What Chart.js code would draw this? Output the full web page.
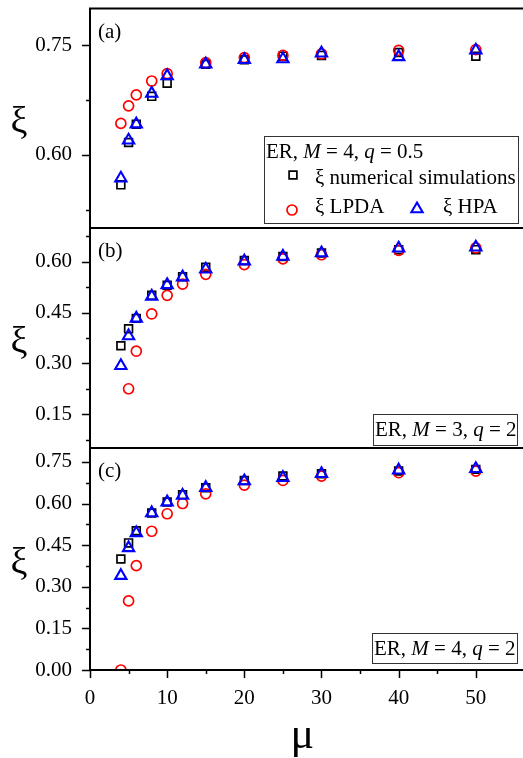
<!DOCTYPE html>
<html>
<head>
<meta charset="utf-8">
<script src="https://cdn.jsdelivr.net/npm/chart.js@4.4.1/dist/chart.umd.min.js"></script>
<style>
  html, body { margin: 0; padding: 0; background: #fff; }
  #wrap { position: relative; width: 523px; height: 758px; overflow: hidden; }
  #wrap canvas { position: absolute; left: 0; top: 0; }
</style>
</head>
<body>
<div id="wrap">
  <canvas id="panelA" width="523" height="758"></canvas>
  <canvas id="panelB" width="523" height="758"></canvas>
  <canvas id="panelC" width="523" height="758"></canvas>
</div>
<script>
// mean degree
const mu = [4, 5, 6, 8, 10, 12, 15, 20, 25, 30, 40, 50];

// (a) ER, M = 4, q = 0.5 -- no point at mu = 12
const simA  = [0.559, 0.617, 0.642, 0.680, 0.698, null, 0.724, 0.730, 0.735, 0.736, 0.740, 0.735];
const lpdaA = [0.643, 0.667, 0.682, 0.701, 0.711, null, 0.726, 0.733, 0.736, 0.738, 0.743, 0.744];
const hpaA  = [0.568, 0.620, 0.642, 0.684, 0.708, null, 0.724, 0.730, 0.731, 0.739, 0.734, 0.743];

// (b) ER, M = 3, q = 2 -- LPDA has no value at mu = 4
const simB  = [0.352, 0.402, 0.433, 0.501, 0.531, 0.556, 0.584, 0.604, 0.616, 0.626, 0.636, 0.636];
const lpdaB = [null,  0.225, 0.336, 0.446, 0.501, 0.534, 0.563, 0.592, 0.609, 0.621, 0.634, 0.641];
const hpaB  = [0.293, 0.381, 0.433, 0.498, 0.532, 0.555, 0.578, 0.602, 0.616, 0.626, 0.640, 0.643];

// (c) ER, M = 4, q = 2
const simC  = [0.400, 0.458, 0.502, 0.566, 0.605, 0.632, 0.657, 0.683, 0.699, 0.707, 0.717, 0.723];
const lpdaC = [0.000, 0.249, 0.376, 0.500, 0.563, 0.600, 0.635, 0.666, 0.683, 0.699, 0.711, 0.717];
const hpaC  = [0.340, 0.440, 0.494, 0.566, 0.605, 0.629, 0.657, 0.681, 0.693, 0.707, 0.720, 0.725];

// tick positions (labels only on multiples of 0.15 / 10)
const yTicksA = [0.525, 0.60, 0.675, 0.75];
const yTicksB = [0.075, 0.15, 0.225, 0.30, 0.375, 0.45, 0.525, 0.60, 0.675];
const yTicksC = [0, 0.075, 0.15, 0.225, 0.30, 0.375, 0.45, 0.525, 0.60, 0.675, 0.75];
const xTicks  = [0, 5, 10, 15, 20, 25, 30, 35, 40, 45, 50];

const SERIF = "'Liberation Serif', 'Times New Roman', serif";
const FONT = 21;
const isMajorY = v => Math.round(v * 1000) % 150 === 0;

const styles = {
  sim:  { label: 'ξ numerical simulations', pointStyle: 'rect',     radius: 5.5, color: '#000000', width: 1.7 },
  lpda: { label: 'ξ LPDA',                  pointStyle: 'circle',   radius: 5,   color: '#ff0000', width: 1.7 },
  hpa:  { label: 'ξ HPA',                   pointStyle: 'triangle', radius: 6.5, color: '#0000ff', width: 2.1 }
};

function toPoints(ys) {
  return mu.map((x, i) => ({ x: x, y: ys[i] })).filter(p => p.y !== null);
}

function dataset(key, ys, order) {
  const s = styles[key];
  return {
    label: s.label,
    data: toPoints(ys),
    pointStyle: s.pointStyle,
    pointRadius: s.radius,
    pointHoverRadius: s.radius,
    pointBorderWidth: s.width,
    pointBorderColor: s.color,
    pointBackgroundColor: 'rgba(0,0,0,0)',
    showLine: false,
    clip: 0,
    order: order
  };
}

// draws text made of plain / italic pieces, returns end x
function richText(ctx, parts, x, y, size) {
  parts.forEach(p => {
    ctx.font = (p[1] ? 'italic ' : '') + size + 'px ' + SERIF;
    ctx.fillText(p[0], x, y);
    x += ctx.measureText(p[0]).width;
  });
  return x;
}

function marker(ctx, key, x, y) {
  const s = styles[key];
  ctx.save();
  ctx.strokeStyle = s.color;
  ctx.fillStyle = 'rgba(0,0,0,0)';
  ctx.lineWidth = s.width;
  Chart.helpers.drawPoint(ctx, { pointStyle: s.pointStyle, radius: s.radius, rotation: 0, borderWidth: s.width }, x, y);
  ctx.restore();
}

// frame, minor/major ticks, axis symbols and the panel notes
const panelDecor = {
  id: 'panelDecor',
  afterDraw(chart, args, o) {
    const ctx = chart.ctx;
    const a = chart.chartArea;
    const sx = chart.scales.x, sy = chart.scales.y;
    ctx.save();
    ctx.strokeStyle = '#000';
    ctx.lineWidth = 1.5;
    ctx.beginPath();
    o.yTicks.forEach(v => {
      const py = Math.round(sy.getPixelForValue(v)) + 0.5;
      ctx.moveTo(a.left - (isMajorY(v) ? 8 : 4), py);
      ctx.lineTo(a.left, py);
    });
    if (o.showX) {
      xTicks.forEach(v => {
        const px = Math.round(sx.getPixelForValue(v)) + 0.5;
        ctx.moveTo(px, a.bottom);
        ctx.lineTo(px, a.bottom + (v % 10 === 0 ? 8 : 4));
      });
    }
    ctx.stroke();

    ctx.lineWidth = 2;
    ctx.beginPath();
    ctx.moveTo(a.left, a.top); ctx.lineTo(a.left, a.bottom);
    ctx.moveTo(a.left - 1, a.top); ctx.lineTo(chart.width, a.top);
    ctx.moveTo(a.left - 1, a.bottom); ctx.lineTo(chart.width, a.bottom);
    ctx.stroke();

    ctx.fillStyle = '#000';
    ctx.textBaseline = 'alphabetic';
    ctx.textAlign = 'left';
    ctx.font = FONT + 'px ' + SERIF;
    ctx.fillText(o.tag, 98, a.top + 29);

    // upright ξ on the y side
    ctx.textAlign = 'center';
    ctx.font = '38px ' + SERIF;
    ctx.fillText('ξ', 19, (a.top + a.bottom) / 2 + 15);
    if (o.showX) {
      ctx.font = '44px ' + SERIF;
      ctx.fillText('μ', (a.left + a.right) / 2, 748);
    }
    ctx.textAlign = 'left';

    const b = o.box;
    ctx.fillStyle = '#fff';
    ctx.fillRect(b.x, b.y, b.w, b.h);
    ctx.strokeStyle = '#333';
    ctx.lineWidth = 1;
    ctx.strokeRect(b.x + 0.5, b.y + 0.5, b.w, b.h);
    ctx.fillStyle = '#000';
    richText(ctx, o.note, b.x + 2, b.y + b.base, FONT);
    if (o.legend) {
      marker(ctx, 'sim', b.x + 29, b.y + 39);
      ctx.font = FONT + 'px ' + SERIF;
      ctx.fillText(styles.sim.label, b.x + 51, b.y + 48);
      marker(ctx, 'lpda', b.x + 28, b.y + 74);
      ctx.fillText(styles.lpda.label, b.x + 51, b.y + 77);
      marker(ctx, 'hpa', b.x + 153, b.y + 73);
      ctx.fillText(styles.hpa.label, b.x + 179, b.y + 77);
    }
    ctx.restore();
  }
};

const panels = [
  { id: 'panelA', tag: '(a)', top: 5, bottom: 228, yMin: 0.50, yMax: 0.80, yTicks: yTicksA,
    sim: simA, lpda: lpdaA, hpa: hpaA, showX: false, legend: true,
    note: [['ER, ', 0], ['M', 1], [' = 4, ', 0], ['q', 1], [' = 0.5', 0]],
    box: { x: 264, y: 136, w: 254, h: 87, base: 22 } },
  { id: 'panelB', tag: '(b)', top: 228, bottom: 448, yMin: 0.05, yMax: 0.70, yTicks: yTicksB,
    sim: simB, lpda: lpdaB, hpa: hpaB, showX: false, legend: false,
    note: [['ER, ', 0], ['M', 1], [' = 3, ', 0], ['q', 1], [' = 2', 0]],
    box: { x: 373, y: 414, w: 144, h: 31, base: 22 } },
  { id: 'panelC', tag: '(c)', top: 448, bottom: 670, yMin: 0, yMax: 0.80, yTicks: yTicksC,
    sim: simC, lpda: lpdaC, hpa: hpaC, showX: true, legend: false,
    note: [['ER, ', 0], ['M', 1], [' = 4, ', 0], ['q', 1], [' = 2', 0]],
    box: { x: 372, y: 633, w: 145, h: 30, base: 22 } }
];

panels.forEach(p => {
  new Chart(document.getElementById(p.id), {
    type: 'scatter',
    data: {
      datasets: [
        dataset('hpa', p.hpa, 0),
        dataset('lpda', p.lpda, 1),
        dataset('sim', p.sim, 2)
      ]
    },
    plugins: [panelDecor],
    options: {
      responsive: false,
      animation: false,
      events: [],
      layout: { padding: { left: 0, right: 0, top: p.top, bottom: p.showX ? 0 : 758 - p.bottom } },
      plugins: {
        legend: { display: false },
        tooltip: { enabled: false },
        panelDecor: p
      },
      scales: {
        x: {
          type: 'linear',
          min: 0,
          max: 55,
          display: p.showX,
          afterBuildTicks: s => { s.ticks = xTicks.map(v => ({ value: v })); },
          afterFit: s => {
            s.height = p.showX ? 758 - p.bottom : 0;
            s.paddingLeft = 0;
            s.paddingRight = 0;
          },
          grid: { display: false },
          border: { display: false },
          ticks: {
            autoSkip: false,
            maxRotation: 0,
            padding: 8,
            color: '#000',
            font: { family: SERIF, size: FONT },
            callback: v => (v % 10 === 0 ? String(v) : '')
          }
        },
        y: {
          type: 'linear',
          min: p.yMin,
          max: p.yMax,
          afterBuildTicks: s => { s.ticks = p.yTicks.map(v => ({ value: v })); },
          afterFit: s => { s.width = 90; s.paddingTop = 0; s.paddingBottom = 0; },
          grid: { display: false },
          border: { display: false },
          ticks: {
            autoSkip: false,
            padding: 10,
            color: '#000',
            font: { family: SERIF, size: FONT },
            callback: v => (isMajorY(v) ? v.toFixed(2) : '')
          }
        }
      }
    }
  });
});
</script>
</body>
</html>
